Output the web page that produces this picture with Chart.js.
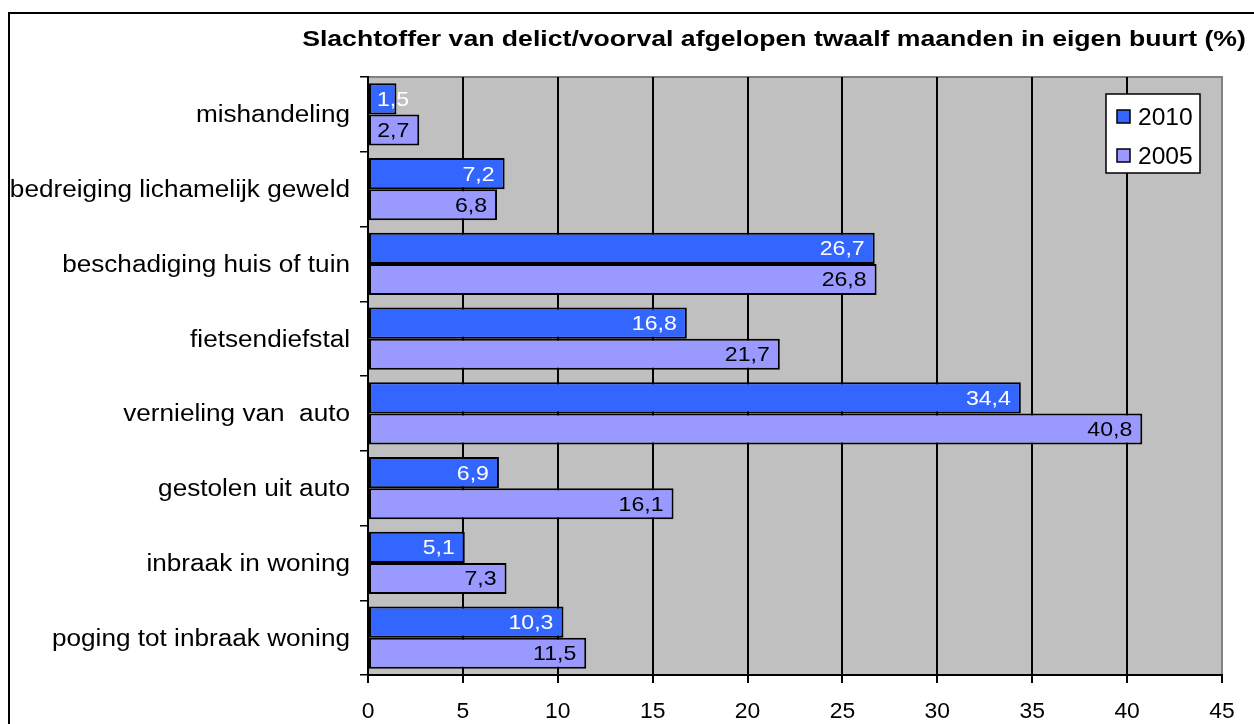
<!DOCTYPE html>
<html>
<head>
<meta charset="utf-8">
<script src="https://cdn.jsdelivr.net/npm/chart.js@4/dist/chart.umd.min.js"></script>
<style>
  html, body { margin: 0; padding: 0; background: #fff; }
  #wrap { width: 1254px; height: 724px; position: relative; }
</style>
</head>
<body>
<div id="wrap"><canvas id="chart" width="1254" height="724"></canvas></div>
<script>
// data
const titleText = 'Slachtoffer van delict/voorval afgelopen twaalf maanden in eigen buurt (%)';
const categories = [
  'mishandeling',
  'bedreiging lichamelijk geweld',
  'beschadiging huis of tuin',
  'fietsendiefstal',
  'vernieling van  auto',
  'gestolen uit auto',
  'inbraak in woning',
  'poging tot inbraak woning'
];
const values2010 = [1.5, 7.2, 26.7, 16.8, 34.4, 6.9, 5.1, 10.3];
const values2005 = [2.7, 6.8, 26.8, 21.7, 40.8, 16.1, 7.3, 11.5];
const seriesNames = ['2010', '2005'];
const xTicks = [0, 5, 10, 15, 20, 25, 30, 35, 40, 45];

const FONT = 'Arial, "Liberation Sans", sans-serif';

// the original text is a bit wider than plain Arial, so stretch it sideways
function stretchText(ctx, txt, x, y, size, sx, align, bold) {
  ctx.save();
  ctx.font = (bold ? 'bold ' : '') + size + 'px ' + FONT;
  ctx.textBaseline = 'alphabetic';
  ctx.textAlign = align;
  ctx.translate(x, y);
  ctx.scale(sx, 1);
  ctx.fillText(txt, 0, 0);
  ctx.restore();
}
function textWidth(ctx, txt, size, sx) {
  ctx.save();
  ctx.font = size + 'px ' + FONT;
  const w = ctx.measureText(txt).width * sx;
  ctx.restore();
  return w;
}

// gray plot area + frame + title
const backdrop = {
  id: 'backdrop',
  beforeDraw(chart) {
    const { ctx, chartArea: a } = chart;
    ctx.save();
    ctx.fillStyle = '#fff';
    ctx.fillRect(0, 0, chart.width, chart.height);
    ctx.fillStyle = '#c0c0c0';
    ctx.fillRect(a.left, a.top, a.right - a.left, a.bottom - a.top);
    ctx.strokeStyle = '#808080';
    ctx.lineWidth = 2;
    ctx.beginPath();
    ctx.moveTo(a.left, a.top);
    ctx.lineTo(a.right, a.top);
    ctx.lineTo(a.right, a.bottom);
    ctx.stroke();
    // outer frame (runs off the right and bottom edges)
    ctx.strokeStyle = '#000';
    ctx.lineWidth = 2;
    ctx.strokeRect(9, 13, chart.width + 20, chart.height + 20);
    ctx.fillStyle = '#000';
    stretchText(ctx, titleText, 774, 46, 22, 1.21, 'center', true);
    ctx.restore();
  }
};

// axis tick labels drawn from the scales
const axisLabels = {
  id: 'axisLabels',
  afterDraw(chart) {
    const { ctx, scales } = chart;
    ctx.save();
    ctx.fillStyle = '#000';
    scales.y.ticks.forEach((t, i) => {
      const y = scales.y.getPixelForTick(i);
      stretchText(ctx, categories[t.value], 350, y + 8, 23, 1.137, 'right');
    });
    scales.x.ticks.forEach((t, i) => {
      const x = scales.x.getPixelForTick(i);
      stretchText(ctx, String(t.value), x, 718, 22, 1.04, 'center');
    });
    ctx.restore();
  }
};

// value labels inside the bar ends, comma decimals
const valueLabels = {
  id: 'valueLabels',
  afterDatasetsDraw(chart) {
    const { ctx } = chart;
    ctx.save();
    chart.data.datasets.forEach((ds, i) => {
      const meta = chart.getDatasetMeta(i);
      meta.data.forEach((bar, j) => {
        const txt = ds.data[j].toFixed(1).replace('.', ',');
        const w = textWidth(ctx, txt, 21, 1.1);
        const x = Math.max(bar.x - 10 - w, bar.base + 8);
        ctx.fillStyle = i === 0 ? '#fff' : '#000';
        stretchText(ctx, txt, x, bar.y + 7, 21, 1.1, 'left');
      });
    });
    ctx.restore();
  }
};

// legend box in the upper right of the plot
const legendBox = {
  id: 'legendBox',
  afterDraw(chart) {
    const { ctx } = chart;
    ctx.save();
    ctx.fillStyle = '#fff';
    ctx.fillRect(1106, 94, 94, 79);
    ctx.strokeStyle = '#000';
    ctx.lineWidth = 1.5;
    ctx.strokeRect(1106, 94, 94, 79);
    chart.data.datasets.forEach((ds, i) => {
      const y = 117 + i * 39;
      ctx.fillStyle = ds.backgroundColor;
      ctx.fillRect(1117, y - 7, 13, 13);
      ctx.strokeStyle = '#000';
      ctx.lineWidth = 1.5;
      ctx.strokeRect(1117, y - 7, 13, 13);
      ctx.fillStyle = '#000';
      stretchText(ctx, ds.label, 1138, y + 8, 23, 1.07, 'left');
    });
    ctx.restore();
  }
};

new Chart(document.getElementById('chart'), {
  type: 'bar',
  data: {
    labels: categories,
    datasets: [
      { label: seriesNames[0], data: values2010, backgroundColor: '#3366ff' },
      { label: seriesNames[1], data: values2005, backgroundColor: '#9999ff' }
    ]
  },
  options: {
    indexAxis: 'y',
    responsive: false,
    animation: false,
    layout: { padding: { left: 0, top: 77, right: 32, bottom: 0 } },
    datasets: {
      bar: {
        borderColor: '#000',
        borderWidth: 2,
        borderSkipped: false,
        categoryPercentage: 0.83,
        barPercentage: 1
      }
    },
    plugins: {
      legend: { display: false },
      title: { display: false },
      tooltip: { enabled: false }
    },
    scales: {
      x: {
        min: 0,
        max: 45,
        afterBuildTicks: (scale) => { scale.ticks = xTicks.map(v => ({ value: v })); },
        afterFit: (scale) => { scale.height = 724 - 675; },
        grid: {
          color: (c) => (c.tick && c.tick.value === 45 ? '#808080' : '#000'),
          tickColor: '#000',
          lineWidth: 2,
          tickLength: 8
        },
        border: { color: '#000', width: 2 },
        ticks: { display: false }
      },
      y: {
        afterFit: (scale) => { scale.width = 368; },
        grid: {
          offset: true,
          drawOnChartArea: false,
          color: '#000',
          lineWidth: 1.5,
          tickLength: 8
        },
        border: { color: '#000', width: 2 },
        ticks: { display: false, autoSkip: false }
      }
    }
  },
  plugins: [backdrop, valueLabels, axisLabels, legendBox]
});
</script>
</body>
</html>
